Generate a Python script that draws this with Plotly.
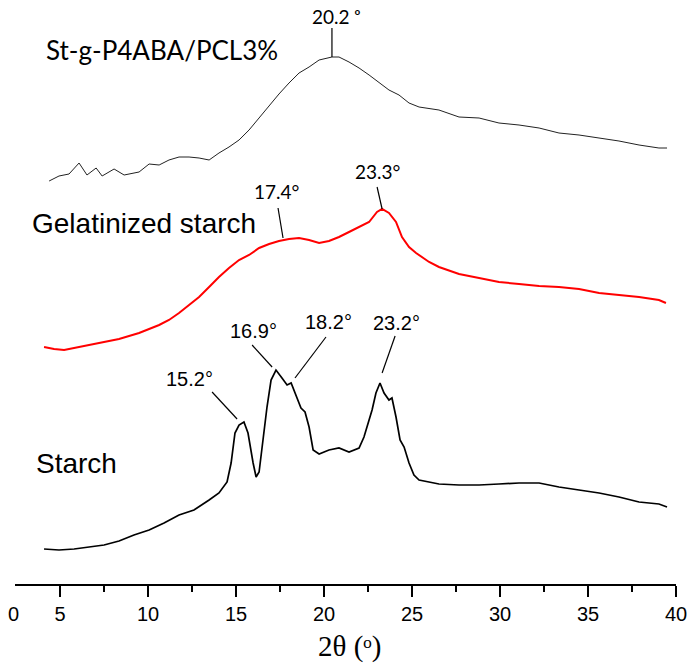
import plotly.graph_objects as go

# ---- data (2theta in degrees, intensity in arbitrary stacked units) ----
top_x = [4.38, 4.94, 5.51, 6.08, 6.53, 7.05, 7.39, 8.07, 8.64, 9.49, 10.06, 10.63, 11.19, 11.76,
         12.33, 12.90, 13.47, 14.03, 14.60, 15.17, 15.74, 16.31, 16.88, 17.44, 18.01, 18.58,
         19.15, 19.72, 20.45, 20.85, 21.42, 21.99, 22.56, 23.13, 23.69, 24.26, 24.83, 25.40,
         26.53, 27.67, 28.81, 29.94, 31.08, 32.22, 33.35, 34.49, 35.63, 36.76, 37.90, 39.03, 39.49]
top_y = [403, 408, 410, 421, 409, 416, 408, 415, 409, 412, 420, 419, 424, 427,
         427, 426, 424, 431, 437, 444, 454, 466, 479, 490, 501, 511,
         517, 524, 527, 527, 522, 516, 509, 501, 494, 489, 481, 477,
         474, 467, 466, 461, 459, 456, 451, 449, 446, 443, 439, 436, 436]

gel_x = [4.09, 4.66, 5.23, 6.08, 7.22, 8.35, 9.49, 10.63, 11.19, 11.76, 12.33, 12.90, 13.47,
         14.03, 14.60, 15.17, 15.74, 16.31, 16.88, 17.44, 18.01, 18.58, 19.15, 19.72, 20.28,
         20.85, 21.42, 21.99, 22.56, 23.01, 23.30, 23.69, 24.09, 24.43, 24.83, 25.23, 25.97,
         26.53, 27.67, 28.81, 29.94, 31.08, 32.22, 33.35, 34.49, 35.63, 36.76, 37.90, 39.03, 39.43]
gel_y = [237, 235, 234, 237, 241, 245, 251, 259, 264, 271, 279, 287, 297,
         307, 316, 324, 329, 336, 340, 343, 345, 346, 344, 341, 343,
         347, 352, 357, 362, 372, 375, 371, 362, 347, 337, 331, 322,
         317, 310, 306, 302, 300, 298, 297, 295, 291, 289, 287, 284, 281]

st_x = [4.09, 4.94, 5.80, 6.65, 7.50, 8.35, 9.20, 10.06, 10.91, 11.76, 12.61, 13.47, 14.03,
        14.49, 14.72, 14.94, 15.17, 15.45, 15.68, 15.97, 16.14, 16.31, 16.53, 16.76, 16.99,
        17.27, 17.61, 17.90, 18.13, 18.41, 18.69, 18.92, 19.15, 19.38, 19.72, 20.28, 20.85,
        21.42, 21.99, 22.27, 22.44, 22.73, 22.95, 23.18, 23.41, 23.69, 23.86, 24.09, 24.32,
        24.55, 24.83, 25.11, 25.40, 26.53, 27.67, 28.81, 29.94, 31.08, 32.22, 33.35, 34.49,
        35.63, 36.76, 37.90, 39.03, 39.49]
st_y = [35, 34, 35, 37, 39, 43, 49, 54, 61, 69, 74, 84, 91,
        102, 121, 151, 159, 162, 151, 121, 107, 112, 144, 177, 204,
        214, 206, 199, 201, 189, 176, 172, 157, 134, 130, 134, 136,
        132, 136, 147, 157, 174, 191, 201, 191, 184, 186, 167, 144,
        137, 121, 109, 104, 100, 99, 99, 100, 101, 101, 97, 94,
        91, 87, 82, 80, 77]

# peak labels: (text, leader-line end x, leader-line end y)
peak_text = ["20.2 ᵒ", "17.4°", "23.3°", "15.2°", "16.9°", "18.2°", "23.2°"]
peak_x = [20.45, 17.67, 23.30, 15.06, 17.05, 18.35, 23.30]
peak_y = [527, 346, 375, 165, 217, 206, 211]

major_ticks = [5, 10, 15, 20, 25, 30, 35, 40]
minor_ticks = [7.5, 12.5, 17.5, 22.5, 27.5, 32.5, 37.5]

fig = go.Figure()
fig.add_trace(go.Scatter(x=top_x, y=top_y, mode="lines",
                         line=dict(color="#222222", width=1)))
fig.add_trace(go.Scatter(x=gel_x, y=gel_y, mode="lines",
                         line=dict(color="#ff0000", width=2)))
fig.add_trace(go.Scatter(x=st_x, y=st_y, mode="lines",
                         line=dict(color="#000000", width=1.7)))

# leader lines (pixel offsets from the peak point, y up) and their texts
line_off = [(0, 29), (-5, 30), (-5, 22), (-25, 27), (-20, 22), (31, 41), (13, 37)]
text_pos = [(336, 17), (277, 191), (378, 171), (190, 379), (253, 331), (328, 322), (396, 323)]
calibri_like = [True, True, True, False, False, False, False]
W, H = 691, 665
L, R, T, B = 15, 15, 0, 81
pw, ph = W - L - R, H - T - B
for i in range(len(peak_text)):
    fig.add_shape(type="line", xref="x", yref="y", xsizemode="pixel", ysizemode="pixel",
                  xanchor=peak_x[i], yanchor=peak_y[i], x0=0, y0=0,
                  x1=line_off[i][0], y1=line_off[i][1],
                  line=dict(color="#000", width=1.2))
    tx, ty = text_pos[i]
    fig.add_annotation(x=(tx - L) / pw, y=1 - (ty - T) / ph, xref="paper", yref="paper",
                       text=peak_text[i], showarrow=False, xanchor="center", yanchor="middle",
                       font=dict(family="Lato" if calibri_like[i] else "Liberation Sans, Arial",
                                 size=19 if calibri_like[i] else 20, color="#000"))

# curve labels
labels = [("St-g-P4ABA/PCL3%", 162, 50, "Lato", 26),
          ("Gelatinized starch", 144, 223, "Liberation Sans, Arial", 28),
          ("Starch", 76, 463, "Liberation Sans, Arial", 28)]
for txt, tx, ty, fam, sz in labels:
    fig.add_annotation(x=(tx - L) / pw, y=1 - (ty - T) / ph, xref="paper", yref="paper",
                       text=txt, showarrow=False, xanchor="center", yanchor="middle",
                       font=dict(family=fam, size=sz, color="#000"))

# stray "0" tick label at the left end of the axis
fig.add_annotation(x=(13 - L) / pw, y=1 - (614 - T) / ph, xref="paper", yref="paper",
                   text="0", showarrow=False, xanchor="center", yanchor="middle",
                   font=dict(family="Liberation Sans, Arial", size=20, color="#000"))
# axis title
fig.add_annotation(x=(350 - L) / pw, y=1 - (646 - T) / ph, xref="paper", yref="paper",
                   text="2θ (ᵒ)", showarrow=False, xanchor="center", yanchor="middle",
                   font=dict(family="Liberation Serif, DejaVu Serif, Times New Roman", size=29,
                             color="#000"))

fig.update_layout(
    width=W, height=H, margin=dict(l=L, r=R, t=T, b=B),
    paper_bgcolor="white", plot_bgcolor="white", showlegend=False,
    xaxis=dict(range=[2.44, 40], tickvals=major_ticks, ticktext=[str(v) for v in major_ticks],
               ticks="outside", ticklen=11, tickwidth=2, tickcolor="#000",
               showline=True, linewidth=2, linecolor="#000", showgrid=False, zeroline=False,
               tickfont=dict(family="Liberation Sans, Arial", size=20, color="#000"),
               minor=dict(tickvals=minor_ticks, ticks="outside", ticklen=6, tickwidth=2,
                          tickcolor="#000", showgrid=False)),
    yaxis=dict(range=[0, 584], visible=False, showgrid=False, zeroline=False),
)
fig.write_html("out.html")
